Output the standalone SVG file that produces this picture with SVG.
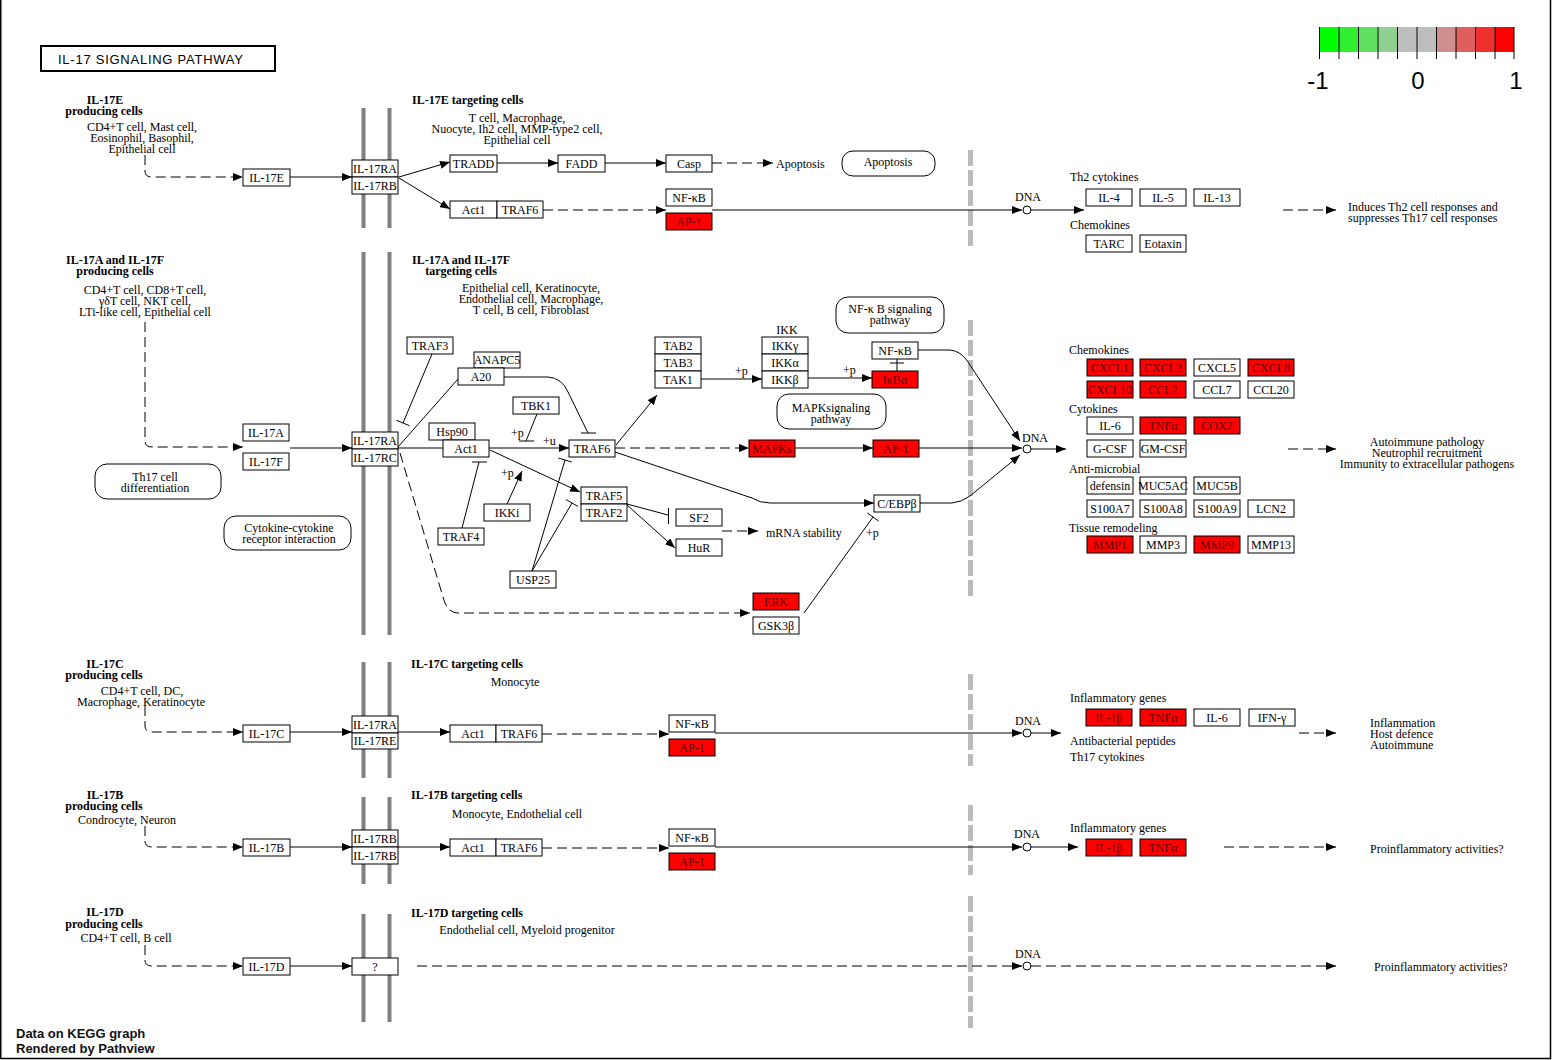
<svg xmlns="http://www.w3.org/2000/svg" width="1552" height="1060" viewBox="0 0 1552 1060">
<defs>
<marker id="a" markerUnits="userSpaceOnUse" markerWidth="10" markerHeight="8" refX="10" refY="4" orient="auto"><path d="M0,0 L10,4 L0,8 z" fill="#000"/></marker>
<style>
text{font-family:"Liberation Serif","Times New Roman",serif;font-size:12px;fill:#000}
.b{font-weight:bold}
.m{text-anchor:middle}
.n rect{fill:#fff;stroke:#000;stroke-width:1}
.n text{text-anchor:middle;font-size:12px}
.n rect.r{fill:#ff0000}
.n text.r{fill:#600000}
.p rect{fill:#fff;stroke:#000;stroke-width:1}
.c path,.c line{fill:none;stroke:#000;stroke-width:1}
.c .d{stroke-dasharray:10,5}
.c .ar{marker-end:url(#a)}
.mem line{stroke:#808080;stroke-width:4}
.gd line{stroke:#bbbbbb;stroke-width:5;stroke-dasharray:16,4}
.dna circle{fill:#fff;stroke:#000;stroke-width:1}
.leg text{font-family:"Liberation Sans",Arial,sans-serif;font-size:24px;text-anchor:middle}
.ft text{font-family:"Liberation Sans",Arial,sans-serif;font-size:13px;font-weight:bold;fill:#111}
</style>
</defs>
<rect x="0" y="0" width="1552" height="1060" fill="#fff"/>
<g id="frame" fill="none" stroke="#000" stroke-width="1.5">
<path d="M0.75,0 V1058.5 H1550.5 V0"/>
</g>

<g id="title"><rect x="41" y="46" width="234" height="25" fill="#fff" stroke="#000" stroke-width="2"/>
<text x="58" y="64" style="font-family:'Liberation Sans',Arial,sans-serif;font-size:13px" textLength="185">IL-17  SIGNALING  PATHWAY</text></g>

<g id="legend" class="leg">
<rect x="1319" y="27" width="19.5" height="25" fill="#00ff00"/>
<rect x="1338.5" y="27" width="19.5" height="25" fill="#30ee30"/>
<rect x="1358" y="27" width="19.5" height="25" fill="#5fdf5f"/>
<rect x="1377.5" y="27" width="19.5" height="25" fill="#8fcf8f"/>
<rect x="1397" y="27" width="19.5" height="25" fill="#bebebe"/>
<rect x="1416.5" y="27" width="19.5" height="25" fill="#bebebe"/>
<rect x="1436" y="27" width="19.5" height="25" fill="#cf8f8f"/>
<rect x="1455.5" y="27" width="19.5" height="25" fill="#df5f5f"/>
<rect x="1475" y="27" width="19.5" height="25" fill="#ef3030"/>
<rect x="1494.5" y="27" width="19.5" height="25" fill="#ff0000"/>
<path d="M1319.5,27V59M1339,27V59M1358.5,27V59M1378,27V59M1397.5,27V59M1417,27V59M1436.5,27V59M1456,27V59M1475.5,27V59M1495,27V59M1514,27V59" stroke="#000" stroke-width="1"/>
<text x="1318" y="89">-1</text><text x="1418" y="89">0</text><text x="1516" y="89">1</text>
</g>

<g id="membranes" class="mem">
<line x1="363.5" y1="108" x2="363.5" y2="228"/><line x1="389.5" y1="108" x2="389.5" y2="228"/>
<line x1="363.5" y1="252" x2="363.5" y2="635"/><line x1="389.5" y1="252" x2="389.5" y2="635"/>
<line x1="363.5" y1="662" x2="363.5" y2="778"/><line x1="389.5" y1="662" x2="389.5" y2="778"/>
<line x1="363.5" y1="797" x2="363.5" y2="884"/><line x1="389.5" y1="797" x2="389.5" y2="884"/>
<line x1="363.5" y1="914" x2="363.5" y2="1022"/><line x1="389.5" y1="914" x2="389.5" y2="1022"/>
</g>
<g id="nuclear" class="gd">
<line x1="970.5" y1="150" x2="970.5" y2="246"/>
<line x1="970.5" y1="320" x2="970.5" y2="596"/>
<line x1="970.5" y1="674" x2="970.5" y2="766"/>
<line x1="970.5" y1="805" x2="970.5" y2="875"/>
<line x1="970.5" y1="896" x2="970.5" y2="1028"/>
</g>

<g id="labels">
<text class="b m" x="105" y="104">IL-17E</text>
<text class="b m" x="104" y="115">producing cells</text>
<text class="m" x="142" y="131">CD4+T cell, Mast cell,</text>
<text class="m" x="142" y="142">Eosinophil, Basophil,</text>
<text class="m" x="142" y="153">Epithelial cell</text>
<text class="b" x="412" y="104">IL-17E targeting cells</text>
<text class="m" x="517" y="122">T cell, Macrophage,</text>
<text class="m" x="517" y="133">Nuocyte, Ih2 cell, MMP-type2 cell,</text>
<text class="m" x="517" y="144">Epithelial cell</text>
<text x="776" y="168">Apoptosis</text>
<text class="m" x="1028" y="201">DNA</text>
<text x="1070" y="181">Th2 cytokines</text>
<text x="1070" y="229">Chemokines</text>
<text x="1348" y="211">Induces Th2 cell responses and</text>
<text x="1348" y="222">suppresses Th17 cell responses</text>

<text class="b m" x="115" y="264">IL-17A and IL-17F</text>
<text class="b m" x="115" y="275">producing cells</text>
<text class="m" x="145" y="294">CD4+T cell, CD8+T cell,</text>
<text class="m" x="145" y="305">γδT cell, NKT cell,</text>
<text class="m" x="145" y="316">LTi-like cell, Epithelial cell</text>
<text class="b" x="412" y="264">IL-17A and IL-17F</text>
<text class="b m" x="461" y="275">targeting cells</text>
<text class="m" x="531" y="292">Epithelial cell, Keratinocyte,</text>
<text class="m" x="531" y="303">Endothelial cell, Macrophage,</text>
<text class="m" x="531" y="314">T cell, B cell, Fibroblast</text>
<text class="m" x="787" y="334">IKK</text>
<text x="735" y="375">+p</text>
<text x="843" y="374">+p</text>
<text x="511" y="437">+p</text>
<text x="543" y="445">+u</text>
<text x="501" y="477">+p</text>
<text x="866" y="537">+p</text>
<text x="766" y="537">mRNA stability</text>
<text class="m" x="1035" y="442">DNA</text>
<text x="1069" y="354">Chemokines</text>
<text x="1069" y="413">Cytokines</text>
<text x="1069" y="473">Anti-microbial</text>
<text x="1069" y="532">Tissue remodeling</text>
<text class="m" x="1427" y="446">Autoimmune pathology</text>
<text class="m" x="1427" y="457">Neutrophil recruitment</text>
<text class="m" x="1427" y="468">Immunity to extracellular pathogens</text>

<text class="b m" x="105" y="668">IL-17C</text>
<text class="b m" x="104" y="679">producing cells</text>
<text class="m" x="142" y="695">CD4+T cell, DC,</text>
<text class="m" x="141" y="706">Macrophage, Keratinocyte</text>
<text class="b" x="411" y="668">IL-17C targeting cells</text>
<text class="m" x="515" y="686">Monocyte</text>
<text class="m" x="1028" y="725">DNA</text>
<text x="1070" y="702">Inflammatory genes</text>
<text x="1070" y="745">Antibacterial peptides</text>
<text x="1070" y="761">Th17 cytokines</text>
<text x="1370" y="727">Inflammation</text>
<text x="1370" y="738">Host defence</text>
<text x="1370" y="749">Autoimmune</text>

<text class="b m" x="105" y="799">IL-17B</text>
<text class="b m" x="104" y="810">producing cells</text>
<text class="m" x="127" y="824">Condrocyte, Neuron</text>
<text class="b" x="411" y="799">IL-17B targeting cells</text>
<text class="m" x="517" y="818">Monocyte, Endothelial cell</text>
<text class="m" x="1027" y="838">DNA</text>
<text x="1070" y="832">Inflammatory genes</text>
<text x="1370" y="853">Proinflammatory activities?</text>

<text class="b m" x="105" y="916">IL-17D</text>
<text class="b m" x="104" y="928">producing cells</text>
<text class="m" x="126" y="942">CD4+T cell, B cell</text>
<text class="b" x="411" y="917">IL-17D targeting cells</text>
<text class="m" x="527" y="934">Endothelial cell, Myeloid progenitor</text>
<text class="m" x="1028" y="958">DNA</text>
<text x="1374" y="971">Proinflammatory activities?</text>
</g>

<g id="pathways" class="p">
<g id="map_apoptosis"><rect x="842" y="151" width="93" height="25" rx="11"/><text class="m" x="888" y="166">Apoptosis</text></g>
<g id="map_nfkb"><rect x="836" y="297" width="108" height="36" rx="12"/><text class="m" x="890" y="313">NF-κ B signaling</text><text class="m" x="890" y="324">pathway</text></g>
<g id="map_mapk"><rect x="777" y="394" width="109" height="35" rx="12"/><text class="m" x="831" y="412">MAPKsignaling</text><text class="m" x="831" y="423">pathway</text></g>
<g id="map_th17"><rect x="95" y="464" width="126" height="35" rx="12"/><text class="m" x="155" y="481">Th17 cell</text><text class="m" x="155" y="492">differentiation</text></g>
<g id="map_cytokine"><rect x="224" y="516" width="127" height="34" rx="12"/><text class="m" x="289" y="532">Cytokine-cytokine</text><text class="m" x="289" y="543">receptor interaction</text></g>
</g>

<g id="connectors" class="c">
<path class="d ar" d="M145,155 V171 Q145,177 152,177 H243"/>
<path class="ar" d="M290,177 H352"/>
<path class="ar" d="M399,177 L450,162"/>
<path class="ar" d="M399,178 L450,209"/>
<path class="ar" d="M497,163 H558"/>
<path class="ar" d="M605,163 H666"/>
<path class="d ar" d="M712,163 H773"/>
<path class="d ar" d="M543,210 H666"/>
<path class="ar" d="M712,210 H1022"/>
<path class="ar" d="M1031,210 H1084"/>
<path class="d ar" d="M1283,210 H1336"/>
<path class="d ar" d="M145,322 V441 Q145,447 152,447 H243"/>
<path class="ar" d="M290,448 H352"/>
<path d="M398,448 H443"/>
<path class="ar" d="M489,448 H569"/>
<path d="M398,447 L458,379"/>
<path d="M432,354 L403,423 M396.5,420.3 L409.5,425.7"/>
<path d="M504,377 H548 Q562,378 568,392 L588,433 M581,433 H596"/>
<path d="M537,414 L526,441 M519,441 H534"/>
<path d="M462,528 L479,462 M472,462 H487"/>
<path class="ar" d="M507,504 L522,471"/>
<path class="ar" d="M490,450 L580,492"/>
<path d="M532,571 L565,460 M558.3,458 L571.7,462"/>
<path d="M532,571 L572,503 M566,499.5 L578,506.5"/>
<path d="M627,504 L668,515 M668.5,508 V524"/>
<path class="ar" d="M627,505 L675,548"/>
<path class="d ar" d="M722,531 H758"/>
<path class="ar" d="M616,445 L657,395"/>
<path class="d ar" d="M615,448 H749"/>
<path class="ar" d="M615,452 L752,498 Q760,503 770,503 H874"/>
<path class="d ar" d="M400,453 L443,597 Q447,613 458,613 H750"/>
<path class="ar" d="M701,379 H762"/>
<path class="ar" d="M808,378 H872"/>
<path d="M897,359 V371 M890,363 H904"/>
<path class="ar" d="M918,350 H950 Q961,351 968,362 L1020,441"/>
<path class="ar" d="M795,448 H873"/>
<path class="ar" d="M919,448 H1022"/>
<path class="ar" d="M920,503 H952 Q962,502 970,496 L1020,455"/>
<path class="ar" d="M1031,449 H1066"/>
<path d="M804,613 L873,517 M867.3,512.9 L878.7,521.1"/>
<path class="d ar" d="M1288,449 H1336"/>
<path class="d ar" d="M145,706 V726 Q145,732 152,732 H243"/>
<path class="ar" d="M290,732 H352"/>
<path class="ar" d="M398,732 H450"/>
<path class="d ar" d="M542,734 H669"/>
<path class="ar" d="M715,733 H1022"/>
<path class="ar" d="M1031,733 H1061"/>
<path class="d ar" d="M1299,733 H1336"/>
<path class="d ar" d="M145,826 V841 Q145,847 152,847 H243"/>
<path class="ar" d="M290,847 H352"/>
<path class="ar" d="M398,847 H450"/>
<path class="d ar" d="M542,848 H669"/>
<path class="ar" d="M715,847 H1022"/>
<path class="ar" d="M1031,847 H1078"/>
<path class="d ar" d="M1224,847 H1336"/>
<path class="d ar" d="M145,945 V960 Q145,966 152,966 H243"/>
<path class="ar" d="M290,966 H352"/>
<path class="d ar" d="M417,966 H1022"/>
<path class="d ar" d="M1031,966 H1336"/>
</g>

<g id="dna" class="dna">
<circle cx="1027" cy="210" r="4"/>
<circle cx="1027" cy="449" r="4"/>
<circle cx="1027" cy="733" r="4"/>
<circle cx="1027" cy="847" r="4"/>
<circle cx="1027" cy="966" r="4"/>
</g>

<g id="nodes" class="n">
<g id="n_il17e"><rect x="243" y="169" width="47" height="17"/><text x="266.5" y="181.5">IL-17E</text></g>
<g id="n_il17ra_1"><rect x="352" y="160" width="46" height="17"/><text x="375" y="172.5">IL-17RA</text></g>
<g id="n_il17rb_1"><rect x="352" y="177" width="46" height="17"/><text x="375" y="189.5">IL-17RB</text></g>
<g id="n_tradd"><rect x="450" y="155" width="47" height="17"/><text x="473.5" y="167.5">TRADD</text></g>
<g id="n_fadd"><rect x="558" y="155" width="47" height="17"/><text x="581.5" y="167.5">FADD</text></g>
<g id="n_casp"><rect x="666" y="155" width="46" height="17"/><text x="689" y="167.5">Casp</text></g>
<g id="n_act1_1"><rect x="450" y="201" width="47" height="17"/><text x="473.5" y="213.5">Act1</text></g>
<g id="n_traf6_1"><rect x="497" y="201" width="46" height="17"/><text x="520" y="213.5">TRAF6</text></g>
<g id="n_nfkb_1"><rect x="666" y="189" width="46" height="17"/><text x="689" y="201.5">NF-κB</text></g>
<g id="n_ap1_1"><rect class="r" x="666" y="213" width="46" height="17"/><text class="r" x="689" y="225.5">AP-1</text></g>
<g id="n_il4"><rect x="1086" y="189" width="46" height="17"/><text x="1109" y="201.5">IL-4</text></g>
<g id="n_il5"><rect x="1140" y="189" width="46" height="17"/><text x="1163" y="201.5">IL-5</text></g>
<g id="n_il13"><rect x="1194" y="189" width="46" height="17"/><text x="1217" y="201.5">IL-13</text></g>
<g id="n_tarc"><rect x="1086" y="235" width="46" height="17"/><text x="1109" y="247.5">TARC</text></g>
<g id="n_eotaxin"><rect x="1140" y="235" width="46" height="17"/><text x="1163" y="247.5">Eotaxin</text></g>
<g id="n_il17a"><rect x="243" y="424" width="46" height="17"/><text x="266" y="436.5">IL-17A</text></g>
<g id="n_il17f"><rect x="243" y="453" width="46" height="17"/><text x="266" y="465.5">IL-17F</text></g>
<g id="n_il17ra_2"><rect x="352" y="432" width="46" height="17"/><text x="375" y="444.5">IL-17RA</text></g>
<g id="n_il17rc"><rect x="352" y="449" width="46" height="17"/><text x="375" y="461.5">IL-17RC</text></g>
<g id="n_traf3"><rect x="407" y="337" width="46" height="17"/><text x="430" y="349.5">TRAF3</text></g>
<g id="n_anapc5"><rect x="474" y="352" width="46" height="16"/><text x="497" y="364">ANAPC5</text></g>
<g id="n_a20"><rect x="458" y="368" width="46" height="17"/><text x="481" y="380.5">A20</text></g>
<g id="n_tbk1"><rect x="513" y="397" width="46" height="17"/><text x="536" y="409.5">TBK1</text></g>
<g id="n_hsp90"><rect x="429" y="423" width="46" height="17"/><text x="452" y="435.5">Hsp90</text></g>
<g id="n_act1_2"><rect x="443" y="440" width="46" height="17"/><text x="466" y="452.5">Act1</text></g>
<g id="n_traf6_2"><rect x="569" y="440" width="46" height="17"/><text x="592" y="452.5">TRAF6</text></g>
<g id="n_traf5"><rect x="581" y="487" width="46" height="17"/><text x="604" y="499.5">TRAF5</text></g>
<g id="n_traf2"><rect x="581" y="504" width="46" height="17"/><text x="604" y="516.5">TRAF2</text></g>
<g id="n_ikki"><rect x="484" y="504" width="46" height="17"/><text x="507" y="516.5">IKKi</text></g>
<g id="n_traf4"><rect x="438" y="528" width="46" height="17"/><text x="461" y="540.5">TRAF4</text></g>
<g id="n_usp25"><rect x="510" y="571" width="46" height="17"/><text x="533" y="583.5">USP25</text></g>
<g id="n_sf2"><rect x="676" y="509" width="46" height="17"/><text x="699" y="521.5">SF2</text></g>
<g id="n_hur"><rect x="676" y="539" width="46" height="17"/><text x="699" y="551.5">HuR</text></g>
<g id="n_tab2"><rect x="655" y="337" width="46" height="17"/><text x="678" y="349.5">TAB2</text></g>
<g id="n_tab3"><rect x="655" y="354" width="46" height="17"/><text x="678" y="366.5">TAB3</text></g>
<g id="n_tak1"><rect x="655" y="371" width="46" height="17"/><text x="678" y="383.5">TAK1</text></g>
<g id="n_ikkg"><rect x="762" y="337" width="46" height="17"/><text x="785" y="349.5">IKKγ</text></g>
<g id="n_ikka"><rect x="762" y="354" width="46" height="17"/><text x="785" y="366.5">IKKα</text></g>
<g id="n_ikkb"><rect x="762" y="371" width="46" height="17"/><text x="785" y="383.5">IKKβ</text></g>
<g id="n_nfkb_2"><rect x="872" y="342" width="46" height="17"/><text x="895" y="354.5">NF-κB</text></g>
<g id="n_ikba"><rect class="r" x="872" y="371" width="46" height="17"/><text class="r" x="895" y="383.5">IκBα</text></g>
<g id="n_mapks"><rect class="r" x="749" y="440" width="46" height="17"/><text class="r" x="772" y="452.5">MAPKs</text></g>
<g id="n_ap1_2"><rect class="r" x="873" y="440" width="46" height="17"/><text class="r" x="896" y="452.5">AP-1</text></g>
<g id="n_cebpb"><rect x="874" y="495" width="46" height="17"/><text x="897" y="507.5">C/EBPβ</text></g>
<g id="n_erk"><rect class="r" x="753" y="593" width="46" height="17"/><text class="r" x="776" y="605.5">ERK</text></g>
<g id="n_gsk3b"><rect x="753" y="617" width="46" height="17"/><text x="776" y="629.5">GSK3β</text></g>
<g id="n_cxcl1"><rect class="r" x="1087" y="359" width="46" height="17"/><text class="r" x="1110" y="371.5">CXCL1</text></g>
<g id="n_cxcl2"><rect class="r" x="1140" y="359" width="46" height="17"/><text class="r" x="1163" y="371.5">CXCL2</text></g>
<g id="n_cxcl5"><rect x="1194" y="359" width="46" height="17"/><text x="1217" y="371.5">CXCL5</text></g>
<g id="n_cxcl8"><rect class="r" x="1248" y="359" width="46" height="17"/><text class="r" x="1271" y="371.5">CXCL8</text></g>
<g id="n_cxcl10"><rect class="r" x="1087" y="381" width="46" height="17"/><text class="r" x="1110" y="393.5">CXCL10</text></g>
<g id="n_ccl2"><rect class="r" x="1140" y="381" width="46" height="17"/><text class="r" x="1163" y="393.5">CCL2</text></g>
<g id="n_ccl7"><rect x="1194" y="381" width="46" height="17"/><text x="1217" y="393.5">CCL7</text></g>
<g id="n_ccl20"><rect x="1248" y="381" width="46" height="17"/><text x="1271" y="393.5">CCL20</text></g>
<g id="n_il6_2"><rect x="1087" y="417" width="46" height="17"/><text x="1110" y="429.5">IL-6</text></g>
<g id="n_tnfa_2"><rect class="r" x="1140" y="417" width="46" height="17"/><text class="r" x="1163" y="429.5">TNFα</text></g>
<g id="n_cox2"><rect class="r" x="1194" y="417" width="46" height="17"/><text class="r" x="1217" y="429.5">COX2</text></g>
<g id="n_gcsf"><rect x="1087" y="440" width="46" height="17"/><text x="1110" y="452.5">G-CSF</text></g>
<g id="n_gmcsf"><rect x="1140" y="440" width="46" height="17"/><text x="1163" y="452.5">GM-CSF</text></g>
<g id="n_defensin"><rect x="1087" y="477" width="46" height="17"/><text x="1110" y="489.5">defensin</text></g>
<g id="n_muc5ac"><rect x="1140" y="477" width="46" height="17"/><text x="1163" y="489.5">MUC5AC</text></g>
<g id="n_muc5b"><rect x="1194" y="477" width="46" height="17"/><text x="1217" y="489.5">MUC5B</text></g>
<g id="n_s100a7"><rect x="1087" y="500" width="46" height="17"/><text x="1110" y="512.5">S100A7</text></g>
<g id="n_s100a8"><rect x="1140" y="500" width="46" height="17"/><text x="1163" y="512.5">S100A8</text></g>
<g id="n_s100a9"><rect x="1194" y="500" width="46" height="17"/><text x="1217" y="512.5">S100A9</text></g>
<g id="n_lcn2"><rect x="1248" y="500" width="46" height="17"/><text x="1271" y="512.5">LCN2</text></g>
<g id="n_mmp1"><rect class="r" x="1087" y="536" width="46" height="17"/><text class="r" x="1110" y="548.5">MMP1</text></g>
<g id="n_mmp3"><rect x="1140" y="536" width="46" height="17"/><text x="1163" y="548.5">MMP3</text></g>
<g id="n_mmp9"><rect class="r" x="1194" y="536" width="46" height="17"/><text class="r" x="1217" y="548.5">MMP9</text></g>
<g id="n_mmp13"><rect x="1248" y="536" width="46" height="17"/><text x="1271" y="548.5">MMP13</text></g>
<g id="n_il17c"><rect x="243" y="725" width="47" height="17"/><text x="266.5" y="737.5">IL-17C</text></g>
<g id="n_il17ra_3"><rect x="352" y="716" width="46" height="17"/><text x="375" y="728.5">IL-17RA</text></g>
<g id="n_il17re"><rect x="352" y="733" width="46" height="16"/><text x="375" y="745">IL-17RE</text></g>
<g id="n_act1_3"><rect x="450" y="725" width="46" height="17"/><text x="473" y="737.5">Act1</text></g>
<g id="n_traf6_3"><rect x="496" y="725" width="46" height="17"/><text x="519" y="737.5">TRAF6</text></g>
<g id="n_nfkb_3"><rect x="669" y="715" width="46" height="17"/><text x="692" y="727.5">NF-κB</text></g>
<g id="n_ap1_3"><rect class="r" x="669" y="739" width="46" height="17"/><text class="r" x="692" y="751.5">AP-1</text></g>
<g id="n_il1b_3"><rect class="r" x="1086" y="709" width="46" height="17"/><text class="r" x="1109" y="721.5">IL-1β</text></g>
<g id="n_tnfa_3"><rect class="r" x="1140" y="709" width="46" height="17"/><text class="r" x="1163" y="721.5">TNFα</text></g>
<g id="n_il6_3"><rect x="1194" y="709" width="46" height="17"/><text x="1217" y="721.5">IL-6</text></g>
<g id="n_ifng"><rect x="1249" y="709" width="46" height="17"/><text x="1272" y="721.5">IFN-γ</text></g>
<g id="n_il17b"><rect x="243" y="839" width="47" height="17"/><text x="266.5" y="851.5">IL-17B</text></g>
<g id="n_il17rb_4a"><rect x="352" y="830" width="46" height="17"/><text x="375" y="842.5">IL-17RB</text></g>
<g id="n_il17rb_4b"><rect x="352" y="847" width="46" height="17"/><text x="375" y="859.5">IL-17RB</text></g>
<g id="n_act1_4"><rect x="450" y="839" width="46" height="17"/><text x="473" y="851.5">Act1</text></g>
<g id="n_traf6_4"><rect x="496" y="839" width="46" height="17"/><text x="519" y="851.5">TRAF6</text></g>
<g id="n_nfkb_4"><rect x="669" y="829" width="46" height="17"/><text x="692" y="841.5">NF-κB</text></g>
<g id="n_ap1_4"><rect class="r" x="669" y="853" width="46" height="17"/><text class="r" x="692" y="865.5">AP-1</text></g>
<g id="n_il1b_4"><rect class="r" x="1086" y="839" width="46" height="17"/><text class="r" x="1109" y="851.5">IL-1β</text></g>
<g id="n_tnfa_4"><rect class="r" x="1140" y="839" width="46" height="17"/><text class="r" x="1163" y="851.5">TNFα</text></g>
<g id="n_il17d"><rect x="243" y="958" width="47" height="17"/><text x="266.5" y="970.5">IL-17D</text></g>
<g id="n_unknown"><rect x="352" y="958" width="46" height="17"/><text x="375" y="970.5">?</text></g>
</g>

<g id="footer" class="ft">
<text x="16" y="1038">Data on KEGG graph</text>
<text x="16" y="1053">Rendered by Pathview</text>
</g>
</svg>
